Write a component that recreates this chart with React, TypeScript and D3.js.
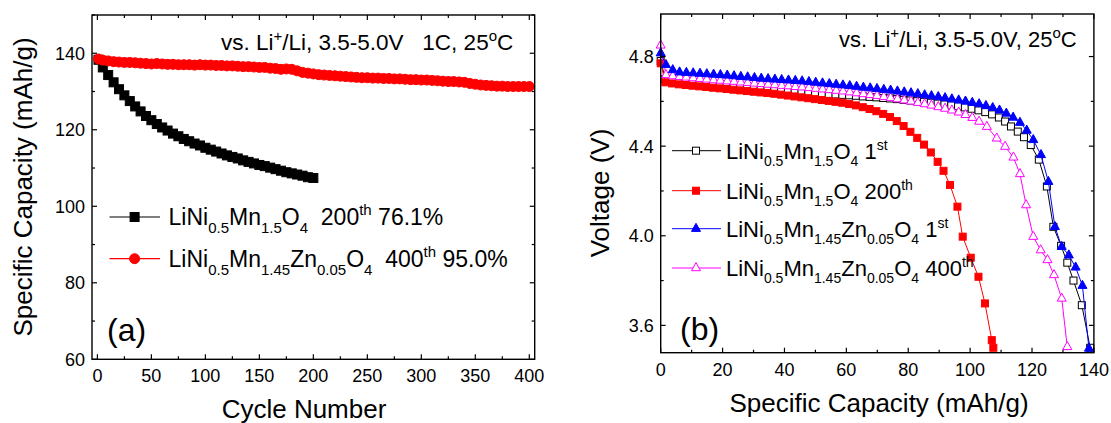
import React from 'react';
import * as d3 from 'd3';

// ---------- Panel (a) data ----------
const cyclesBlack = [1,5,10,15,20,25,30,35,40,45,50,55,60,65,70,75,80,85,90,95,100,105,110,115,120,125,130,135,140,145,150,155,160,165,170,175,180,185,190,195,200];
const capBlack = [138.3,136.3,134.3,132.4,130.6,129.0,127.5,126.1,124.8,123.6,122.5,121.5,120.6,119.8,119.0,118.3,117.6,117.0,116.4,115.9,115.3,114.8,114.3,113.8,113.3,112.9,112.5,112.0,111.6,111.2,110.8,110.5,110.1,109.7,109.3,108.9,108.6,108.3,108.0,107.6,107.4];
const cyclesRed = [1,5,10,15,20,25,30,35,40,45,50,55,60,65,70,75,80,85,90,95,100,105,110,115,120,125,130,135,140,145,150,155,160,165,170,175,180,185,190,195,200,205,210,215,220,225,230,235,240,245,250,255,260,265,270,275,280,285,290,295,300,305,310,315,320,325,330,335,340,345,350,355,360,365,370,375,380,385,390,395,400];
const capRed = [138.5,138.2,138.0,137.8,137.7,137.6,137.6,137.5,137.4,137.3,137.2,137.3,137.2,137.1,137.1,137.0,137.0,137.0,136.9,137.0,136.9,136.9,136.8,136.8,136.7,136.7,136.6,136.5,136.5,136.4,136.3,136.3,136.1,136.0,135.8,135.9,135.8,135.4,135.0,134.8,134.6,134.4,134.3,134.2,134.1,134.0,133.9,133.8,133.7,133.6,133.6,133.5,133.5,133.4,133.4,133.3,133.3,133.2,133.1,133.1,133.0,133.0,132.9,132.8,132.7,132.6,132.6,132.5,132.4,132.1,131.9,131.7,131.6,131.5,131.4,131.4,131.3,131.3,131.3,131.3,131.3];
const xTicksA = [0,50,100,150,200,250,300,350,400];
const xMinorA = [25,75,125,175,225,275,325,375];
const yTicksA = [60,80,100,120,140];
const yMinorA = [70,90,110,130,150];

// ---------- Panel (b) data ----------
const capL1 = [0,1.5,3.7,5.9,8.1,10.3,12.5,14.7,16.9,19.1,21.3,23.5,25.7,27.9,30.1,32.3,34.5,36.7,38.9,41.1,43.3,45.5,47.7,49.9,52.1,54.3,56.5,58.7,60.9,63.1,65.3,67.5,69.7,71.9,74.1,76.3,78.5,80.7,82.9,85.1,87.3,89.5,91.7,93.9,96.1,98.3,100.5,102.7,104.9,107.1,109.3,111.3,113.2,115.4,117.4,119.6,122.2,124.8,126.9,129.4,131.4,133.4,136.1,138.8];
const voltL1 = [4.78,4.70,4.695,4.69,4.688,4.685,4.682,4.678,4.675,4.672,4.668,4.665,4.662,4.659,4.656,4.653,4.651,4.649,4.647,4.645,4.643,4.641,4.639,4.637,4.635,4.633,4.631,4.629,4.627,4.625,4.622,4.62,4.618,4.615,4.613,4.61,4.607,4.604,4.601,4.598,4.594,4.59,4.586,4.582,4.578,4.573,4.567,4.56,4.552,4.542,4.528,4.51,4.488,4.465,4.44,4.405,4.34,4.22,4.04,3.955,3.88,3.80,3.69,3.50];
const capL200 = [0,1.5,3.7,5.9,8.1,10.3,12.5,14.7,16.9,19.1,21.3,23.5,25.7,27.9,30.1,32.3,34.5,36.7,38.9,41.1,43.3,45.5,47.7,49.9,52.1,54.3,56.5,58.7,60.9,63.1,65.3,67.5,69.7,71.9,74.1,76.3,78.5,80.7,82.9,85.1,87.3,89.5,91.4,93.5,95.9,97.6,100.2,102.7,104.8,107.0,107.5];
const voltL200 = [4.77,4.685,4.68,4.676,4.673,4.67,4.667,4.664,4.661,4.658,4.655,4.652,4.649,4.646,4.643,4.64,4.637,4.634,4.63,4.626,4.622,4.618,4.614,4.61,4.606,4.602,4.598,4.594,4.588,4.582,4.574,4.566,4.556,4.544,4.53,4.512,4.49,4.464,4.437,4.407,4.372,4.33,4.29,4.227,4.13,3.996,3.902,3.817,3.698,3.534,3.50];
const capZ1 = [0,1.7,3.9,6.1,8.3,10.5,12.7,14.9,17.1,19.3,21.5,23.7,25.9,28.1,30.3,32.5,34.7,36.9,39.1,41.3,43.5,45.7,47.9,50.1,52.3,54.5,56.7,58.9,61.1,63.3,65.5,67.7,69.9,72.1,74.3,76.5,78.7,80.9,83.1,85.3,87.5,89.7,91.9,94.1,96.3,98.5,100.7,102.9,105.1,107.3,109.5,111.7,113.9,116.1,118.3,120.4,122.9,125.3,127.4,129.6,131.9,134.1,136.3,138.4];
const voltZ1 = [4.815,4.763,4.74,4.73,4.728,4.726,4.724,4.722,4.72,4.718,4.716,4.713,4.71,4.708,4.705,4.702,4.70,4.698,4.696,4.694,4.692,4.69,4.687,4.684,4.681,4.678,4.675,4.672,4.669,4.666,4.662,4.659,4.656,4.652,4.649,4.645,4.641,4.637,4.633,4.628,4.624,4.62,4.615,4.61,4.605,4.60,4.594,4.588,4.58,4.571,4.56,4.546,4.528,4.505,4.47,4.428,4.361,4.241,4.04,3.951,3.913,3.859,3.777,3.497];
const capZ400 = [0,1.7,3.9,6.1,8.3,10.5,12.7,14.9,17.1,19.3,21.5,23.7,25.9,28.1,30.3,32.5,34.7,36.9,39.1,41.3,43.5,45.7,47.9,50.1,52.3,54.5,56.7,58.9,61.1,63.3,65.5,67.7,69.9,72.1,74.3,76.5,78.7,80.9,83.1,85.3,87.5,89.7,91.9,94.1,96.3,98.5,100.7,102.9,105.4,108.6,111.3,114.0,116.1,118.1,120.4,122.8,125.0,127.1,129.6,131.4];
const voltZ400 = [4.85,4.718,4.713,4.71,4.707,4.704,4.701,4.698,4.695,4.693,4.69,4.688,4.685,4.683,4.68,4.678,4.675,4.673,4.67,4.668,4.665,4.663,4.66,4.657,4.654,4.651,4.648,4.645,4.641,4.637,4.633,4.629,4.625,4.62,4.615,4.61,4.605,4.60,4.594,4.588,4.582,4.575,4.568,4.56,4.551,4.54,4.527,4.51,4.487,4.435,4.398,4.35,4.276,4.137,3.996,3.936,3.892,3.825,3.72,3.504];
const xTicksB = [0,20,40,60,80,100,120,140];
const xMinorB = [10,30,50,70,90,110,130];
const yTicksB = [3.6,4.0,4.4,4.8];
const yMinorB = [3.8,4.2,4.6];

const FONT = '"Liberation Sans", Arial, Helvetica, sans-serif';

type Seg = { t: string; k?: 'sub' | 'sup' };

function Rich({ x, y, segs, size, small, subDy, supDy, anchor }: { x: number; y: number; segs: Seg[]; size: number; small: number; subDy: number; supDy: number; anchor?: string }) {
  let prev = 0;
  return (
    <text x={x} y={y} fontSize={size} fontFamily={FONT} fill="#000" textAnchor={anchor || 'start'} style={{ whiteSpace: 'pre' }}>
      {segs.map((s, i) => {
        const off = s.k === 'sub' ? subDy : s.k === 'sup' ? -supDy : 0;
        const dy = off - prev;
        prev = off;
        return (
          <tspan key={i} dy={dy} fontSize={s.k ? small : size}>{s.t}</tspan>
        );
      })}
    </text>
  );
}

function Marker({ type, cx, cy, size, fill, stroke }: { type: string; cx: number; cy: number; size: number; fill: string; stroke: string }) {
  if (type === 'square') {
    return <rect x={cx - size / 2} y={cy - size / 2} width={size} height={size} fill={fill} stroke={stroke} strokeWidth={1} />;
  }
  if (type === 'circle') {
    return <circle cx={cx} cy={cy} r={size / 2} fill={fill} stroke={stroke} strokeWidth={1} />;
  }
  const h = size * 0.9;
  const w = size;
  const d = `M${cx},${cy - (h * 2) / 3}L${cx + w / 2},${cy + h / 3}L${cx - w / 2},${cy + h / 3}Z`;
  return <path d={d} fill={fill} stroke={stroke} strokeWidth={1} />;
}

function Frame({ x0, x1, y0, y1, xs, ys, xMaj, xMin, yMaj, yMin, xFmt, yFmt }: any) {
  const maj = 5;
  const mnr = 3;
  const els: any[] = [];
  xMaj.forEach((v: number, i: number) => {
    const px = xs(v);
    els.push(<line key={'xb' + i} x1={px} x2={px} y1={y1} y2={y1 - maj} stroke="#000" strokeWidth={1.2} />);
    els.push(<line key={'xt' + i} x1={px} x2={px} y1={y0} y2={y0 + maj} stroke="#000" strokeWidth={1.2} />);
    els.push(<text key={'xl' + i} x={px} y={y1 + 23} fontSize={18} fontFamily={FONT} textAnchor="middle">{xFmt(v)}</text>);
  });
  xMin.forEach((v: number, i: number) => {
    const px = xs(v);
    els.push(<line key={'xbm' + i} x1={px} x2={px} y1={y1} y2={y1 - mnr} stroke="#000" strokeWidth={1.2} />);
    els.push(<line key={'xtm' + i} x1={px} x2={px} y1={y0} y2={y0 + mnr} stroke="#000" strokeWidth={1.2} />);
  });
  yMaj.forEach((v: number, i: number) => {
    const py = ys(v);
    els.push(<line key={'yl' + i} x1={x0} x2={x0 + maj} y1={py} y2={py} stroke="#000" strokeWidth={1.2} />);
    els.push(<line key={'yr' + i} x1={x1} x2={x1 - maj} y1={py} y2={py} stroke="#000" strokeWidth={1.2} />);
    els.push(<text key={'yt' + i} x={x0 - 7} y={py + 6.5} fontSize={18} fontFamily={FONT} textAnchor="end">{yFmt(v)}</text>);
  });
  yMin.forEach((v: number, i: number) => {
    const py = ys(v);
    els.push(<line key={'ylm' + i} x1={x0} x2={x0 + mnr} y1={py} y2={py} stroke="#000" strokeWidth={1.2} />);
    els.push(<line key={'yrm' + i} x1={x1} x2={x1 - mnr} y1={py} y2={py} stroke="#000" strokeWidth={1.2} />);
  });
  els.push(<rect key="frame" x={x0} y={y0} width={x1 - x0} height={y1 - y0} fill="none" stroke="#000" strokeWidth={1.4} />);
  return <g>{els}</g>;
}

export default function App() {
  // Panel (a)
  const ax0 = 92, ax1 = 534.7, ay0 = 15, ay1 = 359.3;
  const xA = d3.scaleLinear().domain([-5, 405]).range([ax0, ax1]);
  const yA = d3.scaleLinear().domain([60, 150]).range([ay1, ay0]);
  const lineA = d3.line<[number, number]>().x((d) => xA(d[0])).y((d) => yA(d[1]));
  const blackPts: [number, number][] = cyclesBlack.map((c, i) => [c, capBlack[i]]);
  const redPts: [number, number][] = cyclesRed.map((c, i) => [c, capRed[i]]);

  // Panel (b)
  const bx0 = 660.7, bx1 = 1093.9, by0 = 14, by1 = 352.7;
  const xB = d3.scaleLinear().domain([0, 140]).range([bx0, bx1]);
  const yB = d3.scaleLinear().domain([3.478, 4.99]).range([by1, by0]);
  const lineB = d3.line<[number, number]>().x((d) => xB(d[0])).y((d) => yB(d[1]));

  const seriesB = [
    { caps: capL1, volts: voltL1, color: '#000000', marker: 'square', fill: '#ffffff', size: 7 },
    { caps: capL200, volts: voltL200, color: '#ff0000', marker: 'square', fill: '#ff0000', size: 7 },
    { caps: capZ400, volts: voltZ400, color: '#ff00ff', marker: 'triangle', fill: '#ffffff', size: 9 },
    { caps: capZ1, volts: voltZ1, color: '#0000ff', marker: 'triangle', fill: '#0000ff', size: 9 },
  ];

  const legendB = [
    { color: '#000000', marker: 'square', fill: '#ffffff', size: 7, segs: [{ t: 'LiNi' }, { t: '0.5', k: 'sub' }, { t: 'Mn' }, { t: '1.5', k: 'sub' }, { t: 'O' }, { t: '4', k: 'sub' }, { t: ' 1' }, { t: 'st', k: 'sup' }] },
    { color: '#ff0000', marker: 'square', fill: '#ff0000', size: 7, segs: [{ t: 'LiNi' }, { t: '0.5', k: 'sub' }, { t: 'Mn' }, { t: '1.5', k: 'sub' }, { t: 'O' }, { t: '4', k: 'sub' }, { t: ' 200' }, { t: 'th', k: 'sup' }] },
    { color: '#0000ff', marker: 'triangle', fill: '#0000ff', size: 9, segs: [{ t: 'LiNi' }, { t: '0.5', k: 'sub' }, { t: 'Mn' }, { t: '1.45', k: 'sub' }, { t: 'Zn' }, { t: '0.05', k: 'sub' }, { t: 'O' }, { t: '4', k: 'sub' }, { t: ' 1' }, { t: 'st', k: 'sup' }] },
    { color: '#ff00ff', marker: 'triangle', fill: '#ffffff', size: 9, segs: [{ t: 'LiNi' }, { t: '0.5', k: 'sub' }, { t: 'Mn' }, { t: '1.45', k: 'sub' }, { t: 'Zn' }, { t: '0.05', k: 'sub' }, { t: 'O' }, { t: '4', k: 'sub' }, { t: ' 400' }, { t: 'th', k: 'sup' }] },
  ] as { color: string; marker: string; fill: string; size: number; segs: Seg[] }[];
  const legendBY = [150.7, 190.7, 228.7, 268];

  const legendA = [
    { color: '#000000', marker: 'square', size: 9, y: 217, segs: [{ t: 'LiNi' }, { t: '0.5', k: 'sub' }, { t: 'Mn' }, { t: '1.5', k: 'sub' }, { t: 'O' }, { t: '4', k: 'sub' }, { t: '  200' }, { t: 'th', k: 'sup' }, { t: ' 76.1%' }] },
    { color: '#ff0000', marker: 'circle', size: 10, y: 258.7, segs: [{ t: 'LiNi' }, { t: '0.5', k: 'sub' }, { t: 'Mn' }, { t: '1.45', k: 'sub' }, { t: 'Zn' }, { t: '0.05', k: 'sub' }, { t: 'O' }, { t: '4', k: 'sub' }, { t: '  400' }, { t: 'th', k: 'sup' }, { t: ' 95.0%' }] },
  ] as { color: string; marker: string; size: number; y: number; segs: Seg[] }[];

  return (
    <svg width={1111} height={423} style={{ position: 'absolute', left: 0, top: 0, background: '#fff' }} fontFamily={FONT}>
      <rect x={0} y={0} width={1111} height={423} fill="#fff" />
      {/* ---------- Panel (a) ---------- */}
      <path d={lineA(blackPts) || ''} fill="none" stroke="#000" strokeWidth={1} />
      {blackPts.map((p, i) => (
        <Marker key={'b' + i} type="square" cx={xA(p[0])} cy={yA(p[1])} size={9} fill="#000" stroke="#000" />
      ))}
      <path d={lineA(redPts) || ''} fill="none" stroke="#ff0000" strokeWidth={1} />
      {redPts.map((p, i) => (
        <Marker key={'r' + i} type="circle" cx={xA(p[0])} cy={yA(p[1])} size={10} fill="#ff0000" stroke="#ff0000" />
      ))}
      <Frame x0={ax0} x1={ax1} y0={ay0} y1={ay1} xs={xA} ys={yA} xMaj={xTicksA} xMin={xMinorA} yMaj={yTicksA} yMin={yMinorA} xFmt={(v: number) => String(v)} yFmt={(v: number) => String(v)} />
      <Rich x={221} y={49.5} size={22.5} small={15} subDy={7} supDy={9} segs={[{ t: 'vs. Li' }, { t: '+', k: 'sup' }, { t: '/Li, 3.5-5.0V   1C, 25' }, { t: 'o', k: 'sup' }, { t: 'C' }]} />
      {legendA.map((l, i) => (
        <g key={'la' + i}>
          <line x1={109.5} x2={160} y1={l.y} y2={l.y} stroke={l.color} strokeWidth={1.2} />
          <Marker type={l.marker} cx={134.6} cy={l.y} size={l.size} fill={l.color} stroke={l.color} />
          <Rich x={168.5} y={l.y + 8.3} size={23} small={15} subDy={8} supDy={10} segs={l.segs} />
        </g>
      ))}
      <text x={107} y={341} fontSize={32} fontFamily={FONT}>(a)</text>
      <text x={304} y={417.5} fontSize={26} fontFamily={FONT} textAnchor="middle">Cycle Number</text>
      <text transform="translate(31.5,187) rotate(-90)" fontSize={26} fontFamily={FONT} textAnchor="middle">Specific Capacity (mAh/g)</text>

      {/* ---------- Panel (b) ---------- */}
      {seriesB.map((s, si) => {
        const pts: [number, number][] = s.caps.map((c, i) => [c, s.volts[i]]);
        return (
          <g key={'sb' + si}>
            <path d={lineB(pts) || ''} fill="none" stroke={s.color} strokeWidth={1} />
            {pts.map((p, i) => (
              <Marker key={i} type={s.marker} cx={xB(p[0])} cy={yB(p[1])} size={s.size} fill={s.fill} stroke={s.color} />
            ))}
          </g>
        );
      })}
      <Frame x0={bx0} x1={bx1} y0={by0} y1={by1} xs={xB} ys={yB} xMaj={xTicksB} xMin={xMinorB} yMaj={yTicksB} yMin={yMinorB} xFmt={(v: number) => String(v)} yFmt={(v: number) => v.toFixed(1)} />
      <Rich x={839} y={46.7} size={22} small={15} subDy={7} supDy={9} segs={[{ t: 'vs. Li' }, { t: '+', k: 'sup' }, { t: '/Li, 3.5-5.0V, 25' }, { t: 'o', k: 'sup' }, { t: 'C' }]} />
      {legendB.map((l, i) => (
        <g key={'lb' + i}>
          <line x1={672} x2={721} y1={legendBY[i]} y2={legendBY[i]} stroke={l.color} strokeWidth={1} />
          <Marker type={l.marker} cx={696} cy={legendBY[i]} size={l.size} fill={l.fill} stroke={l.color} />
          <Rich x={726} y={legendBY[i] + 8} size={22} small={14} subDy={7} supDy={9} segs={l.segs} />
        </g>
      ))}
      <text x={680} y={340} fontSize={32} fontFamily={FONT}>(b)</text>
      <text x={879} y={412} fontSize={26} fontFamily={FONT} textAnchor="middle">Specific Capacity (mAh/g)</text>
      <text transform="translate(609,193) rotate(-90)" fontSize={26} fontFamily={FONT} textAnchor="middle">Voltage (V)</text>
    </svg>
  );
}
